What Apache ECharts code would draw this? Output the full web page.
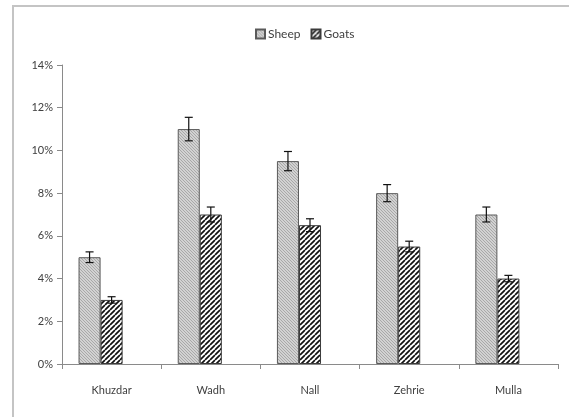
<!DOCTYPE html>
<html>
<head>
<meta charset="utf-8">
<script src="https://cdn.jsdelivr.net/npm/echarts@6/dist/echarts.min.js"></script>
<style>
  html, body { margin: 0; padding: 0; background: #fff; }
  #chart { width: 569px; height: 417px; }
</style>
</head>
<body>
<div id="chart"></div>
<script>
// Prevalence by district (fraction), with standard error
const categories = ['Khuzdar', 'Wadh', 'Nall', 'Zehrie', 'Mulla'];
const sheep      = [0.05, 0.11, 0.095, 0.08, 0.07];
const goats      = [0.03, 0.07, 0.065, 0.055, 0.04];
const sheepErr   = [0.0025, 0.0055, 0.0045, 0.004, 0.0035];
const goatErr    = [0.0015, 0.0035, 0.003, 0.0025, 0.0015];
const yTicks     = { min: 0, max: 0.14, interval: 0.02 };

// Fill patterns: fine grey hatch for sheep, bold black stripes for goats
function makeSheepPattern() {
  const c = document.createElement('canvas');
  c.width = 3; c.height = 3;
  const g = c.getContext('2d');
  g.fillStyle = '#d2d2d2';
  g.fillRect(0, 0, 3, 3);
  g.fillStyle = '#a8a8a8';
  g.fillRect(0, 0, 1, 1);
  g.fillRect(1, 1, 1, 1);
  g.fillRect(2, 2, 1, 1);
  return c;
}
function makeGoatPattern() {
  const s = 5;
  const c = document.createElement('canvas');
  c.width = s; c.height = s;
  const g = c.getContext('2d');
  g.fillStyle = '#ffffff';
  g.fillRect(0, 0, s, s);
  g.strokeStyle = '#111111';
  g.lineWidth = 1.7;
  g.beginPath();
  for (let k = -1; k <= 1; k++) {
    g.moveTo(k * s, s);
    g.lineTo(k * s + s, 0);
  }
  g.stroke();
  return c;
}
const sheepFill = { image: makeSheepPattern(), repeat: 'repeat' };
const goatFill  = { image: makeGoatPattern(), repeat: 'repeat' };

const chart = echarts.init(document.getElementById('chart'), null, { renderer: 'canvas' });

const font = 'Lato, "Open Sans", sans-serif';
// Three bar slots per category (the third one stays empty), gap = 1.5 bar widths
const slots = 3;
const catGapRatio = 1.5 / (slots + 1.5);

// Error bar renderer; slot = index of the bar inside its category
function errorBar(values, errs, slot) {
  return function (params, api) {
    const i = api.value(0);
    const v = values[i], e = errs[i];
    const band = api.size([1, 0])[0];
    const bw = band * (1 - catGapRatio) / slots;
    const c = api.coord([i, v]);
    const x = c[0] - (slots * bw) / 2 + bw * (slot + 0.5);
    const top = api.coord([i, v + e])[1];
    const bot = api.coord([i, v - e])[1];
    const cap = 4;
    const style = { stroke: '#111', lineWidth: 1.2 };
    return {
      type: 'group',
      children: [
        { type: 'line', shape: { x1: x, y1: top, x2: x, y2: bot }, style },
        { type: 'line', shape: { x1: x - cap, y1: top, x2: x + cap, y2: top }, style },
        { type: 'line', shape: { x1: x - cap, y1: bot, x2: x + cap, y2: bot }, style }
      ]
    };
  };
}

const gapPct = (catGapRatio * 100).toFixed(2) + '%';

chart.setOption({
  animation: false,
  backgroundColor: '#ffffff',
  graphic: [{
    type: 'rect',
    shape: { x: 13, y: 6, width: 620, height: 460 },
    style: { fill: 'none', stroke: '#c4c4c4', lineWidth: 2 },
    silent: true
  }],
  legend: {
    top: 23,
    left: 250,
    itemWidth: 9,
    itemHeight: 9,
    itemGap: 10,
    icon: 'rect',
    textStyle: { fontFamily: font, fontSize: 12, color: '#404040', padding: [0, 0, 0, -2] },
    data: ['Sheep', 'Goats']
  },
  grid: { left: 62, right: 11, top: 65, bottom: 53, containLabel: false },
  xAxis: {
    type: 'category',
    data: categories,
    axisLine: { lineStyle: { color: '#8a8a8a', width: 1 } },
    axisTick: { show: true, length: 5, lineStyle: { color: '#8a8a8a' }, alignWithLabel: false },
    axisLabel: { fontFamily: font, fontSize: 11, color: '#404040', margin: 21 },
    splitLine: { show: false }
  },
  yAxis: {
    type: 'value',
    min: yTicks.min,
    max: yTicks.max,
    interval: yTicks.interval,
    axisLine: { show: true, lineStyle: { color: '#8a8a8a', width: 1 } },
    axisTick: { show: true, inside: false, length: 5, lineStyle: { color: '#8a8a8a' } },
    splitLine: { show: false },
    axisLabel: {
      fontFamily: font, fontSize: 11, color: '#404040', margin: 9,
      formatter: v => Math.round(v * 100) + '%'
    }
  },
  series: [
    {
      name: 'Sheep',
      type: 'bar',
      data: sheep,
      barGap: '0%',
      barCategoryGap: gapPct,
      itemStyle: { color: sheepFill, borderColor: '#5a5a5a', borderWidth: 1 }
    },
    {
      name: 'Goats',
      type: 'bar',
      data: goats,
      barGap: '0%',
      barCategoryGap: gapPct,
      itemStyle: { color: goatFill, borderColor: '#3a3a3a', borderWidth: 1 }
    },
    {
      name: 'spacer',
      type: 'bar',
      data: [],
      barGap: '0%',
      barCategoryGap: gapPct,
      silent: true
    },
    {
      type: 'custom',
      renderItem: errorBar(sheep, sheepErr, 0),
      data: categories.map((c, i) => [i]),
      z: 10,
      silent: true
    },
    {
      type: 'custom',
      renderItem: errorBar(goats, goatErr, 1),
      data: categories.map((c, i) => [i]),
      z: 10,
      silent: true
    }
  ]
});
</script>
</body>
</html>
